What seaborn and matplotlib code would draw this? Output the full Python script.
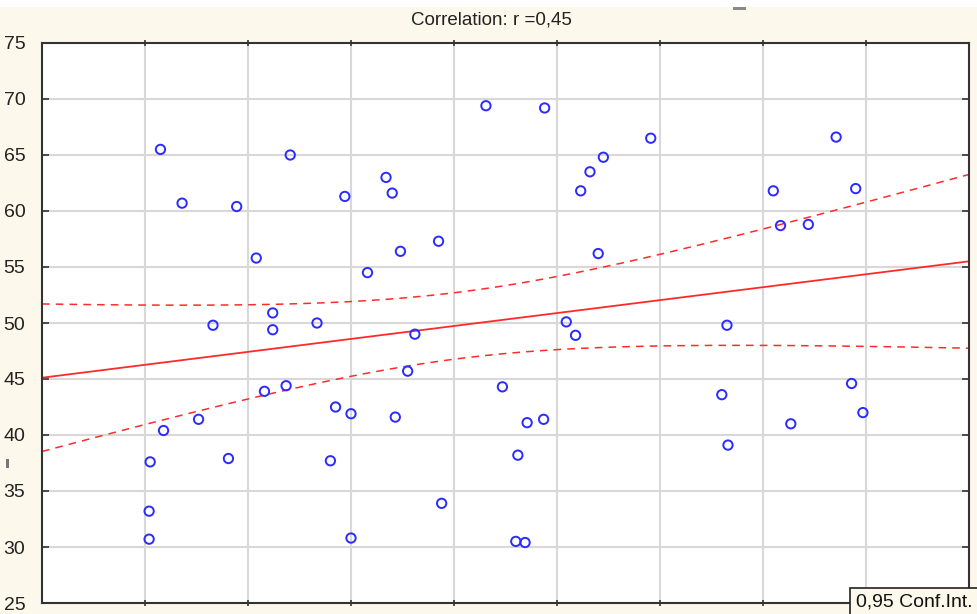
import numpy as np
import pandas as pd
import seaborn as sns
import matplotlib.pyplot as plt
from matplotlib.patches import Rectangle

# Observations (x on an unlabelled 0-9 scale, y on 25-75)
x_vals = [1.15, 1.36, 1.89, 2.41, 2.08, 1.66, 2.24, 2.24, 2.67, 1.18,
          1.52, 1.81, 2.16, 2.37, 1.05, 1.04, 1.04, 2.94, 3.34, 3.40,
          3.16, 3.48, 3.85, 3.62, 2.85, 3.00, 3.43, 3.55, 2.80, 3.88,
          3.00, 4.31, 4.88, 5.91, 5.45, 5.32, 5.23, 5.40, 5.09, 5.18,
          4.47, 4.71, 4.87, 4.62, 4.60, 4.69, 6.65, 6.60, 6.66, 7.10,
          7.17, 7.44, 7.71, 7.90, 7.86, 7.97, 7.27]
y_vals = [65.5, 60.7, 60.4, 65.0, 55.8, 49.8, 50.9, 49.4, 50.0, 40.4,
          41.4, 37.9, 43.9, 44.4, 37.6, 33.2, 30.7, 61.3, 63.0, 61.6,
          54.5, 56.4, 57.3, 49.0, 42.5, 41.9, 41.6, 45.7, 37.7, 33.9,
          30.8, 69.4, 69.2, 66.5, 64.8, 63.5, 61.8, 56.2, 50.1, 48.9,
          44.3, 41.1, 41.4, 38.2, 30.5, 30.4, 49.8, 43.6, 39.1, 61.8,
          58.7, 58.8, 66.6, 62.0, 44.6, 42.0, 41.0]

title_text = "Correlation: r =0,45"
legend_text = "0,95 Conf.Int."
y_ticks = [25, 30, 35, 40, 45, 50, 55, 60, 65, 70, 75]
x_ticks = [1, 2, 3, 4, 5, 6, 7, 8]
T_CRIT_95 = 2.004  # two-sided 95% t quantile, df = n - 2

df = pd.DataFrame({"x": x_vals, "y": y_vals})

# Ordinary least squares fit with a 95% confidence band for the mean
x = df["x"].to_numpy()
y = df["y"].to_numpy()
n = len(x)
slope, intercept = np.polyfit(x, y, 1)
resid = y - (intercept + slope * x)
s_err = np.sqrt(np.sum(resid ** 2) / (n - 2))
sxx = np.sum((x - x.mean()) ** 2)
grid = np.linspace(0, 9, 200)
fit = intercept + slope * grid
half = T_CRIT_95 * s_err * np.sqrt(1.0 / n + (grid - x.mean()) ** 2 / sxx)
band = pd.DataFrame({"x": grid, "fit": fit, "lo": fit - half, "hi": fit + half})

sns.set_theme(style="white")
plt.rcParams["font.family"] = ["Liberation Sans", "DejaVu Sans"]

bg = "#FDF8EC"
fig = plt.figure(figsize=(9.77, 6.14), dpi=100, facecolor=bg)

# thin white strip along the top edge of the window
fig.patches.append(Rectangle((0, 1 - 7 / 614), 1, 7 / 614, transform=fig.transFigure,
                             facecolor="white", edgecolor="none", zorder=0))
fig.patches.append(Rectangle((733 / 977, 1 - 10 / 614), 13 / 977, 3 / 614,
                             transform=fig.transFigure, facecolor="#8A8A8A",
                             edgecolor="none", zorder=1))
fig.patches.append(Rectangle((6 / 977, 1 - 468 / 614), 3 / 977, 9 / 614,
                             transform=fig.transFigure, facecolor="#777777",
                             edgecolor="none", zorder=1))

ax = fig.add_axes([42 / 977, 11 / 614, 927 / 977, 560 / 614])
ax.set_facecolor("white")

sns.lineplot(data=band, x="x", y="fit", ax=ax, color="#FF2A2A", lw=1.3)
sns.lineplot(data=band, x="x", y="lo", ax=ax, color="#FF2A2A", lw=1.1,
             dashes=False, linestyle=(0, (5, 4)))
sns.lineplot(data=band, x="x", y="hi", ax=ax, color="#FF2A2A", lw=1.1,
             dashes=False, linestyle=(0, (5, 4)))
sns.scatterplot(data=df, x="x", y="y", ax=ax, marker="o", s=45,
                facecolors="none", edgecolor="#2B2BFF", linewidth=1.4, zorder=5)

ax.set_xlim(0, 9)
ax.set_ylim(25, 75)
ax.set_xticks(x_ticks)
ax.set_yticks(y_ticks)
ax.set_xticklabels([])
ax.set_yticklabels([str(v) for v in y_ticks], fontsize=14, color="#222222")
ax.set_xlabel("")
ax.set_ylabel("")
ax.grid(True, color="#D8D8D8", lw=1.5)
ax.set_axisbelow(True)
for sp in ax.spines.values():
    sp.set_visible(True)
    sp.set_color("#333333")
    sp.set_linewidth(1.5)
ax.tick_params(axis="y", direction="in", length=5, width=1.2, color="#333333",
               pad=12, left=True, right=True)
ax.tick_params(axis="x", direction="inout", length=5, width=1.2, color="#333333",
               top=True, bottom=True)

fig.text(491 / 977, 1 - 20 / 614, title_text, ha="center",
         va="center", fontsize=13.5, color="#222222")

# Confidence interval caption box at the bottom-right corner
fig.patches.append(Rectangle((850 / 977, -0.01), 0.2, 26 / 614 + 0.01,
                             transform=fig.transFigure, facecolor=bg,
                             edgecolor="#222222", lw=1.2, zorder=10))
fig.text(856 / 977, 1 - 602 / 614, legend_text, ha="left", va="center",
         fontsize=14, color="#111111", zorder=11)

fig.savefig("out.png", dpi=100, facecolor=bg)
